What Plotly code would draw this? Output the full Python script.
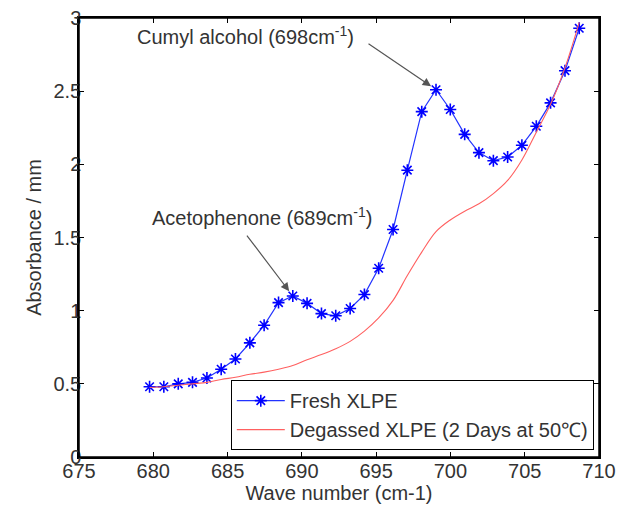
import plotly.graph_objects as go

# Data
wavenumber = [679.75, 680.71, 681.68, 682.64, 683.61, 684.57, 685.53, 686.50, 687.46, 688.43,
              689.39, 690.35, 691.32, 692.28, 693.25, 694.21, 695.17, 696.14, 697.10, 698.07,
              699.03, 699.99, 700.96, 701.92, 702.89, 703.85, 704.81, 705.78, 706.74, 707.71,
              708.67]
fresh_xlpe = [0.48, 0.48, 0.50, 0.51, 0.54, 0.60, 0.67, 0.78, 0.90, 1.055,
              1.10, 1.05, 0.98, 0.965, 1.015, 1.11, 1.29, 1.555, 1.96, 2.36,
              2.51, 2.375, 2.205, 2.08, 2.025, 2.05, 2.13, 2.26, 2.42, 2.64,
              2.93]
degassed_xlpe = [0.475, 0.48, 0.49, 0.50, 0.51, 0.53, 0.545, 0.565, 0.58, 0.60,
                 0.625, 0.665, 0.70, 0.74, 0.79, 0.86, 0.95, 1.07, 1.24, 1.40,
                 1.54, 1.62, 1.68, 1.73, 1.80, 1.89, 2.03, 2.22, 2.41, 2.66,
                 2.97]
series_names = ["Fresh XLPE", "Degassed XLPE (2 Days at 50\u2103)"]
x_ticks = [675, 680, 685, 690, 695, 700, 705, 710]
y_ticks = [0, 0.5, 1, 1.5, 2, 2.5, 3]
y_tick_text = ["0", "0.5", "1", "1.5", "2", "2.5", "3"]
peak_acetophenone = 10   # index of 689 cm-1 peak
peak_cumyl = 20          # index of 698 cm-1 peak

FONT = "Liberation Sans, Arial, sans-serif"
TXT = "#333333"
FS = 20

fig = go.Figure()
fig.add_trace(go.Scatter(
    x=wavenumber, y=fresh_xlpe, name=series_names[0], mode="lines+markers",
    line=dict(color="#2233ff", width=1.2),
    marker=dict(symbol="asterisk-open", size=10, color="#0000ff",
                line=dict(color="#0000ff", width=1.6)),
))
fig.add_trace(go.Scatter(
    x=wavenumber, y=degassed_xlpe, name=series_names[1], mode="lines",
    line=dict(color="#ff6060", width=1.1, shape="spline"),
))

fig.add_annotation(
    x=wavenumber[peak_cumyl], y=fresh_xlpe[peak_cumyl], xref="x", yref="y",
    text="", showarrow=True, ax=-69, ay=-47, arrowhead=2, arrowsize=1.4,
    arrowwidth=1.2, arrowcolor="#555555", standoff=6)
fig.add_annotation(
    x=wavenumber[peak_acetophenone], y=fresh_xlpe[peak_acetophenone], xref="x", yref="y",
    text="", showarrow=True, ax=-47, ay=-62, arrowhead=2, arrowsize=1.4,
    arrowwidth=1.2, arrowcolor="#555555", standoff=6)
fig.add_annotation(
    x=0.320, y=0.961, xref="paper", yref="paper", showarrow=False,
    xanchor="center", yanchor="middle",
    text="Cumyl alcohol (698cm<sup>-1</sup>)", font=dict(size=FS, color=TXT, family=FONT))
fig.add_annotation(
    x=0.351, y=0.547, xref="paper", yref="paper", showarrow=False,
    xanchor="center", yanchor="middle",
    text="Acetophenone (689cm<sup>-1</sup>)", font=dict(size=FS, color=TXT, family=FONT))

# plot frame
fig.add_shape(type="rect", xref="paper", yref="paper", x0=0, y0=0, x1=1, y1=1,
              line=dict(color="black", width=1.5), layer="above")

axis_common = dict(showline=True, linecolor="black", linewidth=1.5, mirror="ticks",
                   ticks="inside", ticklen=5, tickcolor="black", showgrid=False,
                   zeroline=False, automargin=False, ticklabeloverflow="allow",
                   tickfont=dict(size=FS, color=TXT, family=FONT))
fig.update_xaxes(range=[675, 710], tickvals=x_ticks, ticklabelstandoff=-5,
                 title=dict(text="Wave number (cm-1)", font=dict(size=FS, color=TXT, family=FONT),
                            standoff=2),
                 **axis_common)
fig.update_yaxes(range=[0, 3], tickvals=y_ticks, ticktext=y_tick_text, ticklabelstandoff=-8,
                 title=dict(text="Absorbance / mm", font=dict(size=FS, color=TXT, family=FONT),
                            standoff=6),
                 **axis_common)

fig.update_layout(
    width=629, height=508,
    margin=dict(l=71, r=38, t=10, b=59),
    paper_bgcolor="white", plot_bgcolor="white",
    font=dict(family=FONT, color=TXT, size=FS),
    showlegend=True,
    legend=dict(x=0.990, y=0.175, xanchor="right", yanchor="top",
                bgcolor="white", bordercolor="black", borderwidth=1,
                font=dict(size=FS, color=TXT, family=FONT), itemwidth=48,
                tracegroupgap=0),
)

fig.write_html("out.html")
